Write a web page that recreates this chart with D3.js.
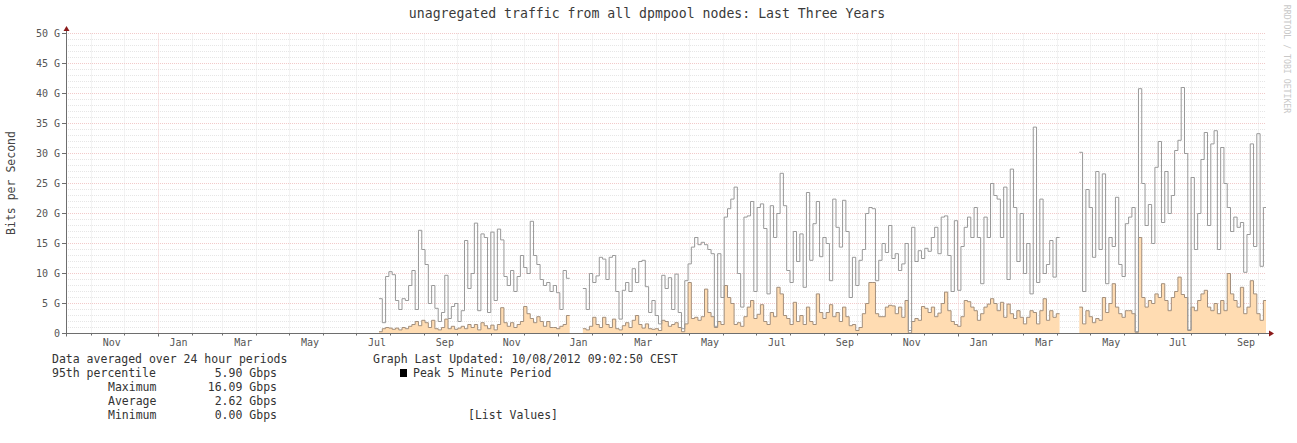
<!DOCTYPE html>
<html><head><meta charset="utf-8">
<script src="https://cdn.jsdelivr.net/npm/d3@7"></script>
<style>
body{margin:0;background:#fff;}
svg text{font-family:"DejaVu Sans Mono",monospace;}
</style></head><body>
<svg id="chart" width="1297" height="443"></svg>
<script>
// ---------------- data ----------------
const chartTitle = "unagregated traffic from all dpmpool nodes: Last Three Years";
const yAxisTitle = "Bits per Second";
const watermark = "RRDTOOL / TOBI OETIKER";
const yTickValues = [0, 5, 10, 15, 20, 25, 30, 35, 40, 45, 50];
const yTickLabels = ["0", "5 G", "10 G", "15 G", "20 G", "25 G", "30 G", "35 G", "40 G", "45 G", "50 G"];
const xTickMonths = ["2009-11","2010-01","2010-03","2010-05","2010-07","2010-09","2010-11","2011-01","2011-03","2011-05","2011-07","2011-09","2011-11","2012-01","2012-03","2012-05","2012-07","2012-09"];
const xTickLabels = ["Nov","Jan","Mar","May","Jul","Sep","Nov","Jan","Mar","May","Jul","Sep","Nov","Jan","Mar","May","Jul","Sep"];
const rangeStart = "2009-10-09T09:02:50";
const rangeEnd = "2012-10-08T09:02:50";
const seriesStart = "2010-07-22T00:00:00";
const stepDays = 3;
// Gbit/s, one value per 3-day step (null = no data)
const peakGbps = [
 5.8, 1.8, 9.5, 10.3, 9.8, 5.5, 4.0, 5.8, 5.5, 8.0,
 10.5, 4.0, 17.2, 14.0, 11.5, 5.0, 8.0, 4.2, 2.0, 3.5,
 9.7, 2.5, 4.5, 5.0, 2.0, 3.8, 15.5, 7.5, 10.0, 18.4,
 3.8, 16.6, 16.0, 3.5, 16.9, 5.5, 17.4, 15.6, 9.5, 8.0,
 10.5, 7.0, 9.5, 13.0, 11.0, 10.0, 18.7, 13.0, 11.5, 9.0,
 8.0, 8.5, 7.0,
 8.0, 6.8, 4.0, 10.5, 9.2, null, null, null, null, 7.5,
 4.0, 10.0, 8.5, 9.6, 12.7, 12.4, 9.0, 12.7, 13.0, 7.0,
 2.4, 7.2, 8.5, 7.0, 10.8, 8.5, 12.0, 12.2, 7.8, 3.5,
 5.5, 3.0, 1.6, 9.7, 7.5, 9.3, 4.0, 9.9, 3.5, 0.8,
 8.8, 11.6, 14.4, 16.0, 14.8, 15.2, 14.8, 14.0, 13.3, 1.2,
 13.3, 6.0, 19.4, 20.8,
 22.4, 24.4, 10.0, 4.4, 19.4, 19.6, 22.0, 7.0, 21.0, 21.6,
 17.5, 6.6, 21.3, 16.0, 20.0, 26.7, 21.3, 10.5, 8.5, 17.0,
 12.0, 16.6, 7.7, 23.5, 12.2, 18.3, 22.0, 12.8, 16.0, 15.0,
 8.8, 22.4, 17.7, 14.4, 22.2, 17.0, 6.0, 12.7, 8.0, 12.2,
 14.0, 20.0, 21.0, 20.8, 8.8, 12.2, 15.0, 13.5, 18.0, 12.5,
 13.3, 10.5, 11.6, 15.0, 0.5,
 17.7, 12.0, 13.8, 12.5, 14.2, 13.7, 16.0, 17.7, 13.3, 19.4,
 19.6, 13.0, 7.0, 18.8, 7.2, 14.5, 17.7, 19.4, 16.0, 21.0,
 16.0, 8.3, 19.4, 16.0, 25.0, 23.0, 22.4, 16.0, 24.4, 9.0,
 27.4, 21.0, 12.0, 20.0, 10.0, 15.0, 6.6, 34.4, 8.5, 22.4,
 10.0, 11.5, 15.5, 9.4, 16.0, null, null, null, null, null,
 null, 30.2, 7.0, 24.0,
 21.0, 12.7, 27.0, 14.0, 26.6, 8.3, 16.0, 14.5, 22.7, 11.5,
 9.5, 18.3, 19.4, 21.0, 0.3, 40.8, 25.0, 18.0, 21.5, 15.0,
 27.7, 32.0, 18.5, 27.0, 20.0, 23.0, 30.5, 32.2, 41.0, 30.0,
 0.6, 26.0, 14.0, 20.0, 29.0, 33.5, 18.0, 31.6, 33.8, 14.0,
 31.0, 25.0, 21.0, 17.0, 19.4, 17.7, 18.5, 10.2, 16.5, 31.6,
 14.5, 33.3, 11.2, 21.0
];
const avgGbps = [
 0.3, 0.8, 1.0, 0.9, 0.7, 0.9, 0.6, 1.0, 0.8, 1.2,
 1.5, 2.0, 1.3, 2.2, 1.8, 1.0, 2.2, 0.8, 0.6, 1.0,
 2.4, 0.8, 1.2, 0.7, 0.9, 1.2, 0.8, 1.5, 1.0, 1.5,
 0.6, 1.8, 1.3, 0.8, 1.4, 0.6, 1.5, 4.3, 1.8, 1.2,
 1.8, 1.0, 1.5, 2.0, 4.5, 3.3, 2.5, 1.8, 2.8, 2.0,
 1.2, 2.0, 1.0,
 1.0, 0.8, 1.2, 1.5, 3.0, null, null, null, null, 0.8,
 0.6, 1.2, 2.7, 1.5, 1.0, 2.7, 1.5, 1.0, 2.4, 0.8,
 0.6, 1.3, 1.8, 1.0, 2.2, 3.0, 1.5, 0.9, 1.6, 0.8,
 0.7, 0.8, 0.5, 2.2, 2.0, 1.2, 1.5, 1.8, 1.0, 0.3,
 1.6, 8.5, 2.5, 2.7, 2.2, 2.8, 7.4, 3.5, 2.8, 1.0,
 2.0, 1.5, 8.0, 6.0,
 5.0, 1.5, 1.8, 1.2, 2.8, 4.4, 5.5, 2.5, 3.2, 4.8,
 2.0, 1.5, 3.5, 2.8, 7.7, 6.6, 3.0, 2.5, 1.5, 5.2,
 2.0, 3.0, 1.5, 4.4, 2.0, 1.5, 6.6, 3.5, 2.5, 3.5,
 4.8, 2.8, 3.5, 2.0, 4.4, 2.8, 1.3, 1.5, 0.5, 1.0,
 3.3, 5.0, 8.5, 8.5, 3.3, 2.8, 2.8, 4.4, 4.7, 4.6,
 3.3, 4.4, 2.7, 5.5, 0.1,
 2.0, 2.5, 2.2, 4.5, 4.2, 3.5, 4.4, 2.8, 3.4, 5.0,
 6.9, 3.8, 2.0, 1.5, 1.2, 2.8, 5.5, 5.3, 4.4, 3.8,
 2.2, 3.3, 4.4, 4.9, 5.8, 5.0, 3.8, 5.2, 2.7, 4.9,
 3.3, 2.5, 3.8, 2.7, 1.6, 2.7, 3.8, 3.5, 1.6, 3.8,
 5.8, 2.2, 3.8, 2.7, 3.3, null, null, null, null, null,
 null, 4.4, 1.6, 3.8,
 2.8, 1.8, 2.5, 2.2, 6.0, 3.5, 5.0, 8.3, 4.4, 3.3,
 2.7, 3.8, 3.8, 3.3, 0.2, 16.0, 6.0, 4.4, 5.5, 5.0,
 6.6, 6.0, 8.3, 5.5, 3.8, 6.0, 7.0, 9.4, 6.5, 6.0,
 0.5, 4.4, 3.8, 5.5, 6.6, 7.2, 4.4, 3.8, 5.0, 3.3,
 5.5, 3.8, 10.0, 6.6, 5.5, 4.4, 7.7, 3.3, 4.4, 8.8,
 6.6, 3.3, 2.2, 5.5
];
const legendLeftLabels = ["95th percentile", "Maximum", "Average", "Minimum"];
const legendLeftValues = ["5.90 Gbps", "16.09 Gbps", "2.62 Gbps", "0.00 Gbps"];
const legendHeader = "Data averaged over 24 hour periods";
const updatedText = "Graph Last Updated: 10/08/2012 09:02:50 CEST";
const seriesLegend = "Peak 5 Minute Period";
const listValuesText = "[List Values]";

// ---------------- drawing ----------------
const svg = d3.select("#chart");
const X0 = 66, X1 = 1266, Y0 = 333.5, Y1 = 33.5;
const t0 = new Date(rangeStart), t1 = new Date(rangeEnd);
const x = d3.scaleTime().domain([t0, t1]).range([X0, X1]);
const y = d3.scaleLinear().domain([0, 50]).range([Y0, Y1]);

const sStart = new Date(seriesStart);
const tAt = i => d3.timeDay.offset(sStart, i * stepDays);

function buildSeries(vals) {
  const out = [];
  vals.forEach((v, i) => {
    out.push({t: tAt(i), v: v});
    const nextUndefined = (i === vals.length - 1) || vals[i + 1] == null;
    if (v != null && nextUndefined) {
      const te = i === vals.length - 1 ? t1 : tAt(i + 1);
      out.push({t: te, v: v});
    }
  });
  return out;
}
const peakSeries = buildSeries(peakGbps);
const avgSeries = buildSeries(avgGbps);

const defs = svg.append("defs");
defs.append("clipPath").attr("id", "plotclip").append("rect")
  .attr("x", X0).attr("y", 20).attr("width", X1 - X0 + 1).attr("height", Y0 - 20 + 0.5);

// grid
const minorCol = "#e6e6e6", majorCol = "#f2caca";
const grid = svg.append("g");
const minorY = d3.range(1, 51).filter(v => v % 5 !== 0);
grid.selectAll("line.hmin").data(minorY).join("line")
  .attr("x1", X0).attr("x2", X1).attr("y1", d => y(d)).attr("y2", d => y(d))
  .attr("stroke", minorCol).attr("stroke-dasharray", "1,1");
const months = d3.timeMonth.range(d3.timeMonth.ceil(t0), t1);
grid.selectAll("line.vmin").data(months.filter(m => m.getMonth() !== 0)).join("line")
  .attr("x1", d => Math.round(x(d)) + 0.5).attr("x2", d => Math.round(x(d)) + 0.5)
  .attr("y1", Y1).attr("y2", Y0)
  .attr("stroke", minorCol).attr("stroke-dasharray", "1,1");
grid.selectAll("line.hmaj").data(yTickValues.filter(v => v > 0)).join("line")
  .attr("x1", X0).attr("x2", X1).attr("y1", d => y(d)).attr("y2", d => y(d))
  .attr("stroke", majorCol).attr("stroke-dasharray", "1,1");
const years = months.filter(m => m.getMonth() === 0);
grid.selectAll("line.vmaj").data(years).join("line")
  .attr("x1", d => Math.round(x(d)) + 0.5).attr("x2", d => Math.round(x(d)) + 0.5)
  .attr("y1", Y1).attr("y2", Y0)
  .attr("stroke", majorCol).attr("stroke-dasharray", "1,1");

// series
const plot = svg.append("g").attr("clip-path", "url(#plotclip)");
const defined = d => d.v != null;
const area = d3.area().defined(defined).curve(d3.curveStepAfter)
  .x(d => x(d.t)).y0(Y0).y1(d => y(d.v));
const line = d3.line().defined(defined).curve(d3.curveStepAfter)
  .x(d => x(d.t)).y(d => y(d.v));
plot.append("path").datum(avgSeries).attr("d", area).attr("fill", "#ffdcb2");
plot.append("path").datum(avgSeries).attr("d", line).attr("fill", "none")
  .attr("stroke", "#a38f7c").attr("stroke-width", 1);
plot.append("path").datum(peakSeries).attr("d", line).attr("fill", "none")
  .attr("stroke", "#999").attr("stroke-width", 1);

// axes
const ax = svg.append("g");
ax.append("line").attr("x1", 62).attr("x2", 1270).attr("y1", Y0).attr("y2", Y0)
  .attr("stroke", "#6e6e6e");
ax.append("line").attr("x1", X0 + 0.5).attr("x2", X0 + 0.5).attr("y1", Y0 + 3).attr("y2", 29)
  .attr("stroke", "#6e6e6e");
ax.append("path").attr("d", `M1269,${Y0 - 3}L1274,${Y0}L1269,${Y0 + 3}Z`).attr("fill", "#8b1a1a");
ax.append("path").attr("d", `M${X0 + 0.5 - 3},31L${X0 + 0.5},26L${X0 + 0.5 + 3},31Z`).attr("fill", "#8b1a1a");
ax.selectAll("line.yt").data(yTickValues).join("line")
  .attr("x1", 62).attr("x2", X0).attr("y1", d => y(d)).attr("y2", d => y(d))
  .attr("stroke", "#6e6e6e");
ax.selectAll("line.xt").data(months).join("line")
  .attr("x1", d => Math.round(x(d)) + 0.5).attr("x2", d => Math.round(x(d)) + 0.5)
  .attr("y1", Y0).attr("y2", d => Y0 + (d.getMonth() === 0 ? 3 : 2))
  .attr("stroke", "#6e6e6e");

// tick labels
svg.append("g").selectAll("text").data(yTickValues).join("text")
  .attr("x", 60).attr("y", d => y(d)).attr("dy", "0.35em")
  .attr("text-anchor", "end").attr("font-size", 10).attr("fill", "#555")
  .text((d, i) => yTickLabels[i]);
const parseMonth = d3.timeParse("%Y-%m");
svg.append("g").selectAll("text").data(xTickMonths).join("text")
  .attr("x", d => x(d3.timeDay.offset(parseMonth(d), 15)) + 4.5)
  .attr("y", 346).attr("text-anchor", "middle").attr("font-size", 10).attr("fill", "#555")
  .text((d, i) => xTickLabels[i]);

// titles
svg.append("text").attr("x", 647).attr("y", 18).attr("text-anchor", "middle")
  .attr("font-size", 13.2).attr("fill", "#3a3a3a").text(chartTitle);
svg.append("text").attr("transform", "translate(15,183) rotate(-90)").attr("text-anchor", "middle")
  .attr("font-size", 11.5).attr("fill", "#444").text(yAxisTitle);
svg.append("text").attr("transform", "translate(1284,59) rotate(90)").attr("text-anchor", "middle")
  .attr("font-size", 8.2).attr("fill", "#c8c8c8").text(watermark);

// legend
const lg = svg.append("g").attr("font-size", 11.5).attr("fill", "#333");
lg.append("text").attr("x", 52).attr("y", 363).text(legendHeader);
const rowY = [377, 391, 405, 419];
legendLeftLabels.forEach((lab, i) => {
  lg.append("text").attr("x", i === 0 ? 52 : 108).attr("y", rowY[i]).text(lab);
  lg.append("text").attr("x", 277).attr("y", rowY[i]).attr("text-anchor", "end").text(legendLeftValues[i]);
});
lg.append("text").attr("x", 373).attr("y", 363).text(updatedText);
lg.append("rect").attr("x", 400).attr("y", 369).attr("width", 7).attr("height", 8).attr("fill", "#000");
lg.append("text").attr("x", 413).attr("y", 377).text(seriesLegend);
lg.append("text").attr("x", 468).attr("y", 419).text(listValuesText);
</script>
</body></html>
